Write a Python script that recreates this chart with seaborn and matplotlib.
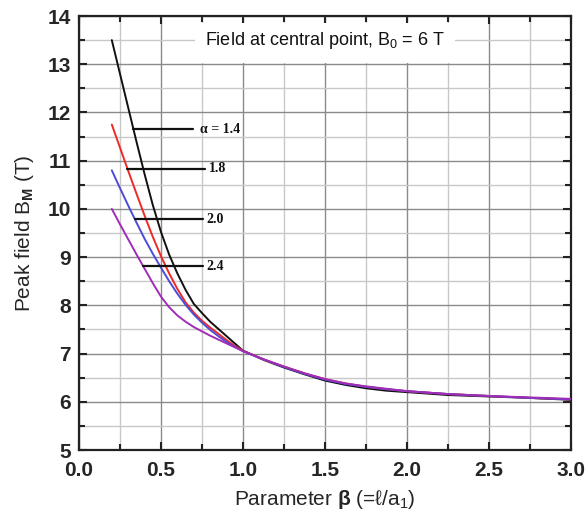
import numpy as np
import pandas as pd
import matplotlib
matplotlib.use("Agg")
import matplotlib.pyplot as plt
from matplotlib.patches import Rectangle
from matplotlib.ticker import MultipleLocator
import seaborn as sns

# ---- data ----
alphas = ["1.4", "1.8", "2.0", "2.4"]

beta_head = [0.20, 0.25, 0.30, 0.35, 0.40, 0.45, 0.50, 0.55, 0.60, 0.65, 0.70, 0.75, 0.80, 0.85, 0.90, 0.95]
beta_tail = [1.00, 1.125, 1.25, 1.375, 1.50, 1.625, 1.75, 1.875, 2.00, 2.25, 2.50, 2.75, 3.00]

bm_14_head = [13.50, 12.80, 12.10, 11.40, 10.72, 10.08, 9.52, 9.05, 8.66, 8.32, 8.03, 7.84, 7.66, 7.51, 7.36, 7.21]
bm_18_head = [11.75, 11.27, 10.79, 10.32, 9.86, 9.42, 9.02, 8.66, 8.34, 8.06, 7.85, 7.68, 7.54, 7.41, 7.28, 7.16]
bm_20_head = [10.80, 10.43, 10.07, 9.72, 9.38, 9.07, 8.78, 8.50, 8.24, 8.01, 7.81, 7.64, 7.49, 7.36, 7.24, 7.14]
bm_24_head = [10.00, 9.68, 9.37, 9.06, 8.76, 8.46, 8.18, 7.96, 7.79, 7.66, 7.55, 7.46, 7.37, 7.29, 7.21, 7.13]

bm_14_tail = [7.06, 6.87, 6.71, 6.57, 6.44, 6.35, 6.28, 6.23, 6.20, 6.14, 6.11, 6.08, 6.04]
bm_18_tail = [7.06, 6.88, 6.73, 6.59, 6.47, 6.38, 6.31, 6.26, 6.22, 6.16, 6.12, 6.08, 6.05]
bm_20_tail = [7.05, 6.88, 6.72, 6.58, 6.46, 6.37, 6.31, 6.26, 6.22, 6.16, 6.12, 6.08, 6.05]
bm_24_tail = [7.05, 6.88, 6.73, 6.59, 6.47, 6.38, 6.32, 6.27, 6.22, 6.16, 6.12, 6.09, 6.06]

# label leaders
leader_y = [11.65, 10.83, 9.78, 8.81]
leader_x0 = [0.33, 0.29, 0.34, 0.39]
leader_x1 = [0.695, 0.77, 0.755, 0.755]
label_x = [0.735, 0.79, 0.775, 0.775]
label_txt = ["α = 1.4", "1.8", "2.0", "2.4"]

colors = {"1.4": "#111111", "1.8": "#f02828", "2.0": "#4c4cd8", "2.4": "#a02cb8"}

frames = []
for a, h, t in zip(alphas, [bm_14_head, bm_18_head, bm_20_head, bm_24_head],
                   [bm_14_tail, bm_18_tail, bm_20_tail, bm_24_tail]):
    frames.append(pd.DataFrame({"beta": beta_head + beta_tail, "bm": h + t, "alpha": a}))
df = pd.concat(frames, ignore_index=True)

# ---- plotting ----
sns.set_theme(style="white")
plt.rcParams["font.family"] = ["Liberation Sans", "DejaVu Sans"]
plt.rcParams["mathtext.fontset"] = "custom"
plt.rcParams["mathtext.rm"] = "Liberation Sans"
plt.rcParams["mathtext.it"] = "Liberation Sans:italic"
plt.rcParams["mathtext.bf"] = "Liberation Sans:bold"

fig = plt.figure(figsize=(5.88, 5.14), dpi=100)
ax = fig.add_axes([79 / 588, 1 - 450 / 514, (571 - 79) / 588, (450 - 16) / 514])

sns.lineplot(data=df, x="beta", y="bm", hue="alpha", palette=colors, estimator=None,
             sort=False, legend=False, linewidth=1.4, ax=ax, zorder=3)

ax.set_xlim(0, 3.0)
ax.set_ylim(5, 14)
ax.xaxis.set_major_locator(MultipleLocator(0.5))
ax.xaxis.set_minor_locator(MultipleLocator(0.25))
ax.yaxis.set_major_locator(MultipleLocator(1))
ax.yaxis.set_minor_locator(MultipleLocator(0.5))
ax.set_xticklabels([f"{t:.1f}" for t in ax.get_xticks()])
ax.set_yticklabels([f"{int(t)}" for t in ax.get_yticks()])

ax.grid(True, which="major", color="#8a8a8a", linewidth=1.0)
ax.grid(True, which="minor", color="#c8c8c8", linewidth=1.0)
ax.set_axisbelow(True)

ax.tick_params(which="both", direction="in", top=True, right=True, bottom=True, left=True,
               width=1.5, color="#222222")
ax.tick_params(which="major", length=6, labelsize=15)
ax.tick_params(axis="x", which="major", pad=8)
ax.tick_params(axis="y", which="major", pad=6)
ax.tick_params(which="minor", length=4)
for lab in ax.get_xticklabels() + ax.get_yticklabels():
    lab.set_fontweight("bold")
for s in ax.spines.values():
    s.set_linewidth(1.6)
    s.set_color("#222222")

# white box behind the annotation text
ax.add_patch(Rectangle((0.71, 13.02), 1.58, 0.84, facecolor="white", edgecolor="none", zorder=1))
ax.text(1.5, 13.5, "Field at central point, B$_0$ = 6 T", ha="center", va="center",
        fontsize=13, color="#111111", zorder=4)

# leader lines and alpha labels
for yv, x0, x1, tx, t in zip(leader_y, leader_x0, leader_x1, label_x, label_txt):
    ax.plot([x0, x1], [yv, yv], color="#111111", linewidth=1.6, zorder=4)
    ax.text(tx, yv, t, ha="left", va="center", fontsize=10, fontweight="bold",
            family=["Liberation Serif", "DejaVu Serif"], color="#111111", zorder=4)

ax.set_xlabel(r"Parameter $\mathbf{\beta}$ (=ℓ/a$_1$)", fontsize=15, labelpad=6)
ax.set_ylabel(r"Peak field B$_\mathbf{M}$ (T)", fontsize=15, labelpad=8)

fig.savefig("out.png", dpi=100)
